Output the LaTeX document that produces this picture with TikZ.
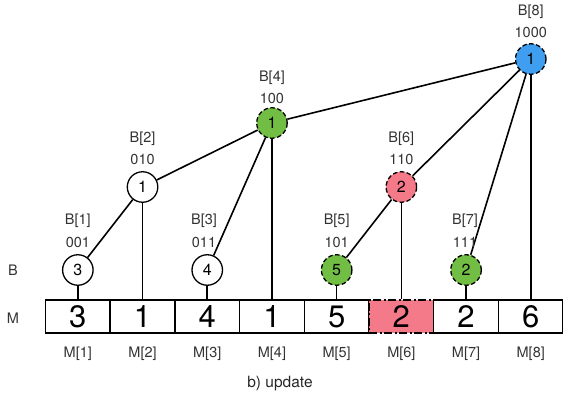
\documentclass[tikz,border=0pt]{standalone}
\usepackage{fontspec}
\setmainfont{TeX Gyre Heros}
\definecolor{nblue}{RGB}{64,158,240}
\definecolor{ngreen}{RGB}{114,190,68}
\definecolor{npink}{RGB}{244,122,138}
\tikzset{
  bnode/.style={circle, draw, line width=1.3pt, minimum size=30.5pt, inner sep=0pt,
    font=\fontsize{16}{16}\selectfont, fill=white},
  upd/.style={bnode, dash pattern=on 4.5pt off 2.5pt},
  lbl/.style={font=\fontsize{14.5}{15}\selectfont, text=black!80},
  cellbox/.style={draw, line width=1.5pt, minimum width=64.7pt, minimum height=33pt,
    inner sep=0pt, font=\fontsize{31}{31}\selectfont},
  conn/.style={line width=1.6pt}
}
\begin{document}
\begin{tikzpicture}[x=1pt,y=-1pt]
\useasboundingbox (0,0) rectangle (563,404);
% array cells
\node[cellbox] (m1) at (77.85,316.5) {3};
\node[cellbox] (m2) at (142.55,316.5) {1};
\node[cellbox] (m3) at (207.25,316.5) {4};
\node[cellbox] (m4) at (271.95,316.5) {1};
\node[cellbox] (m5) at (336.65,316.5) {5};
\node[cellbox, fill=npink, dash pattern=on 8pt off 2.5pt on 2pt off 2.5pt] (m6) at (401.35,316.5) {2};
\node[cellbox] (m7) at (466.05,316.5) {2};
\node[cellbox] (m8) at (530.75,316.5) {6};
% tree nodes
\node[bnode] (b1) at (77.85,270) {3};
\node[bnode] (b2) at (142.55,187) {1};
\node[bnode] (b3) at (207.25,270) {4};
\node[upd, fill=ngreen] (b4) at (271.95,123) {1};
\node[upd, fill=ngreen] (b5) at (336.65,270) {5};
\node[upd, fill=npink] (b6) at (401.35,187) {2};
\node[upd, fill=ngreen] (b7) at (466.05,270) {2};
\node[upd, fill=nblue] (b8) at (530.75,59) {1};
% connectors
\draw[conn] (b1) -- (m1.north);
\draw[conn] (b2) -- (m2.north);
\draw[conn] (b3) -- (m3.north);
\draw[conn] (b4) -- (m4.north);
\draw[conn] (b5) -- (m5.north);
\draw[conn] (b6) -- (m6.north);
\draw[conn] (b7) -- (m7.north);
\draw[conn] (b8) -- (m8.north);
\draw[conn] (b1) -- (b2);
\draw[conn] (b3) -- (b4);
\draw[conn] (b2) -- (b4);
\draw[conn] (b4) -- (b8);
\draw[conn] (b5) -- (b6);
\draw[conn] (b6) -- (b8);
\draw[conn] (b7) -- (b8);
% labels
\node[lbl] (l1a) at (77.85,221) {B[1]};
\node[lbl] (l1b) at (77.85,242) {001};
\node[lbl] (l2a) at (142.55,139) {B[2]};
\node[lbl] (l2b) at (142.55,159) {010};
\node[lbl] (l3a) at (204,221) {B[3]};
\node[lbl] (l3b) at (204,242) {011};
\node[lbl] (l4a) at (271.95,78) {B[4]};
\node[lbl] (l4b) at (271.95,98) {100};
\node[lbl] (l5a) at (336.65,221) {B[5]};
\node[lbl] (l5b) at (336.65,242) {101};
\node[lbl] (l6a) at (401.35,139) {B[6]};
\node[lbl] (l6b) at (401.35,159) {110};
\node[lbl] (l7a) at (465,221) {B[7]};
\node[lbl] (l7b) at (465,242) {111};
\node[lbl] (l8a) at (530.75,12) {B[8]};
\node[lbl] (l8b) at (530.75,32) {1000};
% row labels
\node[lbl] (rowB) at (13,270) {B};
\node[lbl] (rowM) at (13,318) {M};
% index labels
\node[lbl] (i1) at (77.85,354) {M[1]};
\node[lbl] (i2) at (142.55,354) {M[2]};
\node[lbl] (i3) at (207.25,354) {M[3]};
\node[lbl] (i4) at (271.95,354) {M[4]};
\node[lbl] (i5) at (336.65,354) {M[5]};
\node[lbl] (i6) at (401.35,354) {M[6]};
\node[lbl] (i7) at (466.05,354) {M[7]};
\node[lbl] (i8) at (530.75,354) {M[8]};
\node[lbl, font=\fontsize{15.5}{16}\selectfont, text=black!85] (cap) at (280,384) {b) update};
\end{tikzpicture}
\end{document}
